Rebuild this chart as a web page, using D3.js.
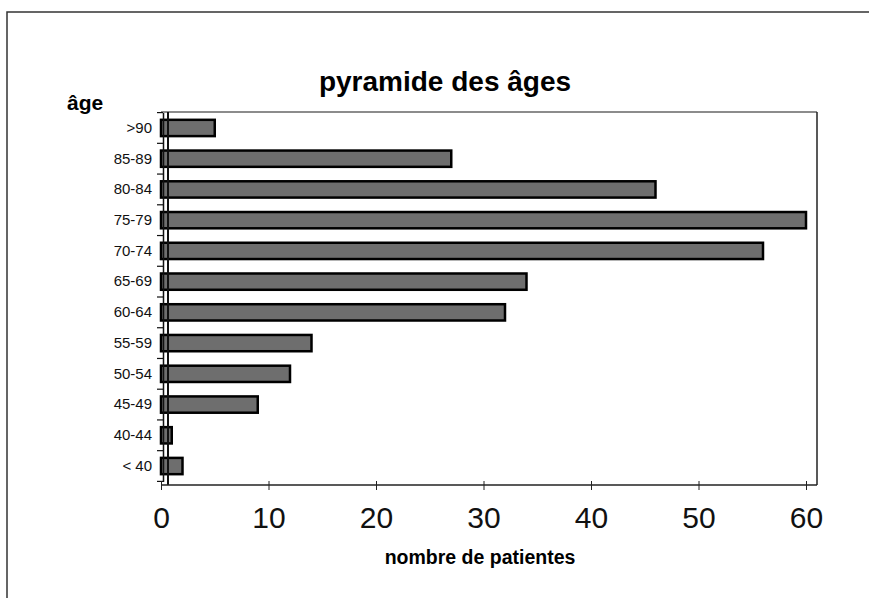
<!DOCTYPE html>
<html><head><meta charset="utf-8">
<script src="https://cdn.jsdelivr.net/npm/d3@7"></script>
<style>body{margin:0;background:#fff;} text{font-family:"Liberation Sans",Arial,sans-serif;}</style>
</head><body>
<svg id="c" width="869" height="598"></svg>
<script>
const categories = [">90","85-89","80-84","75-79","70-74","65-69","60-64","55-59","50-54","45-49","40-44","< 40"];
const counts = [5,27,46,60,56,34,32,14,12,9,1,2];
const xTicks = [0,10,20,30,40,50,60];

(function(){
const svg = d3.select("#c");
svg.append("path").attr("d","M7,598 L7,12 L869,12").attr("fill","none").attr("stroke","#333").attr("stroke-width",1.5);

const pL=161, pR=817, pT=112, pB=485;
const x = d3.scaleLinear().domain([0,60]).range([pL,806]);
const y = d3.scaleBand().domain(categories).range([112.6,481.4]).paddingInner(0.47).paddingOuter(0.235);

svg.append("line").attr("x1",pL).attr("x2",pR).attr("y1",pT).attr("y2",pT).attr("stroke","#666").attr("stroke-width",1.5);
svg.append("line").attr("x1",pR).attr("x2",pR).attr("y1",pT).attr("y2",pB).attr("stroke","#222").attr("stroke-width",1.5);

svg.selectAll("rect.bar").data(categories).enter().append("rect")
  .attr("class","bar")
  .attr("x",x(0))
  .attr("y",d=>y(d))
  .attr("width",(d,i)=>x(counts[i])-x(0))
  .attr("height",y.bandwidth())
  .attr("fill","#6e6e6e").attr("stroke","#000").attr("stroke-width",2.5);

const yAxis = d3.axisLeft(y).tickSize(0).tickPadding(11);
const gy = svg.append("g").attr("transform",`translate(${pL+2},0)`).call(yAxis);
gy.select(".domain").attr("stroke","#111").attr("stroke-width",1.5);
gy.selectAll("text").attr("font-size",15).attr("fill","#111");
const bounds = d3.range(categories.length+1).map(i=>112.6 + i*(481.4-112.6)/categories.length);
svg.selectAll("line.yt").data(bounds).enter().append("line").attr("class","yt")
  .attr("x1",pL-4).attr("x2",pL+2).attr("y1",d=>d).attr("y2",d=>d).attr("stroke","#111").attr("stroke-width",1.2);
svg.append("line").attr("x1",pL+7).attr("x2",pL+7).attr("y1",pT).attr("y2",pB).attr("stroke","#111").attr("stroke-width",2);

const xAxis = d3.axisBottom(x).tickValues(xTicks).tickSize(5).tickPadding(0);
const gx = svg.append("g").attr("transform",`translate(0,${pB})`).call(xAxis);
gx.select(".domain").attr("d",`M${pL},0H${pR}`).attr("stroke","#222").attr("stroke-width",1.5);
gx.selectAll(".tick line").attr("y1",-4).attr("stroke","#222");
gx.selectAll("text").attr("font-size",30).attr("fill","#111").attr("dy",null).attr("y",43);

svg.append("text").attr("x",445).attr("y",91).attr("text-anchor","middle").attr("font-size",28).attr("font-weight","bold").text("pyramide des âges");
svg.append("text").attr("x",67).attr("y",110).attr("font-size",21).attr("font-weight","bold").text("âge");
svg.append("text").attr("x",480).attr("y",564).attr("text-anchor","middle").attr("font-size",19.5).attr("font-weight","bold").text("nombre de patientes");
})();
</script>
</body></html>
